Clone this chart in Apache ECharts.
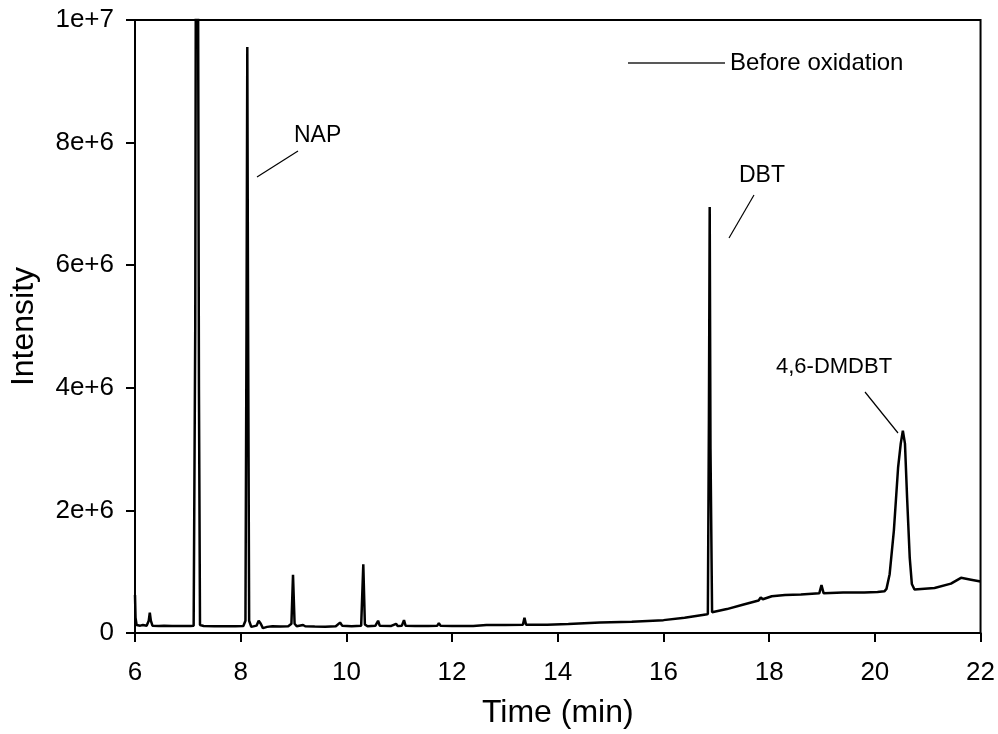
<!DOCTYPE html>
<html>
<head>
<meta charset="utf-8">
<script src="https://cdn.jsdelivr.net/npm/echarts@6/dist/echarts.min.js"></script>
<style>html,body{margin:0;padding:0;background:#fff}#c{width:998px;height:734px}</style>
</head>
<body>
<div id="c"></div>
<script>
// ---- data ----
var seriesName = 'Before oxidation';
var timeMin = [
  6.00, 6.01, 6.03, 6.10, 6.15, 6.22, 6.26, 6.28, 6.30, 6.33, 6.45, 6.55, 6.70, 6.90, 7.05,
  7.11, 7.14, 7.155, 7.175, 7.19, 7.21, 7.23, 7.30, 7.50, 7.70, 7.90, 8.05,
  8.09, 8.11, 8.125, 8.14, 8.16, 8.20, 8.30, 8.34, 8.36, 8.38, 8.42, 8.50, 8.60, 8.75, 8.90,
  8.96, 8.99, 9.02, 9.06, 9.18, 9.22, 9.40, 9.60, 9.80, 9.88, 9.92, 10.10,
  10.28, 10.32, 10.35, 10.40, 10.55, 10.60, 10.63, 10.85, 10.94, 10.97, 11.05, 11.09, 11.12,
  11.30, 11.55, 11.72, 11.75, 11.78, 12.00, 12.40, 12.65, 13.00, 13.34, 13.37, 13.40,
  13.80, 14.20, 14.80, 15.40, 16.00, 16.40, 16.80, 16.84,
  16.86, 16.875, 16.89, 16.92, 17.20, 17.50, 17.80, 17.84, 17.88, 18.05, 18.30, 18.60,
  18.95, 18.99, 19.03, 19.40, 19.80, 20.05, 20.18, 20.22, 20.28, 20.36, 20.44, 20.49,
  20.53, 20.57, 20.61, 20.66, 20.70, 20.75, 21.13, 21.44, 21.63, 21.82, 22.00
];
var intensity = [
  6.2e5, 2.5e5, 1.3e5, 1.2e5, 1.3e5, 1.2e5, 2.0e5, 3.3e5, 2.0e5, 1.2e5, 1.15e5, 1.2e5, 1.15e5, 1.15e5, 1.15e5,
  1.2e5, 5.0e6, 1.3e7, 1.8e7, 1.2e7, 4.0e6, 1.3e5, 1.15e5, 1.1e5, 1.1e5, 1.1e5, 1.15e5,
  2.0e5, 5.0e6, 9.56e6, 5.0e6, 2.0e5, 1.0e5, 1.2e5, 2.0e5, 2.3e5, 1.5e5, 8.0e4, 1.0e5, 1.1e5, 1.05e5, 1.1e5,
  1.5e5, 9.5e5, 1.5e5, 1.1e5, 1.3e5, 1.1e5, 1.05e5, 1.0e5, 1.1e5, 1.7e5, 1.2e5, 1.1e5,
  1.2e5, 1.12e6, 1.4e5, 1.1e5, 1.2e5, 2.0e5, 1.2e5, 1.15e5, 1.5e5, 1.15e5, 1.2e5, 2.1e5, 1.2e5,
  1.15e5, 1.15e5, 1.2e5, 1.6e5, 1.2e5, 1.15e5, 1.15e5, 1.3e5, 1.3e5, 1.35e5, 2.5e5, 1.35e5,
  1.35e5, 1.45e5, 1.7e5, 1.85e5, 2.1e5, 2.5e5, 3.0e5, 3.1e5,
  3.5e6, 6.95e6, 3.0e6, 3.4e5, 3.9e5, 4.6e5, 5.3e5, 5.8e5, 5.5e5, 6.0e5, 6.2e5, 6.3e5,
  6.5e5, 7.8e5, 6.5e5, 6.6e5, 6.6e5, 6.7e5, 6.8e5, 7.2e5, 9.6e5, 1.67e6, 2.7e6, 3.09e6,
  3.30e6, 3.09e6, 2.21e6, 1.23e6, 8.0e5, 7.1e5, 7.35e5, 8.05e5, 9.0e5, 8.7e5, 8.4e5
];
var xTickLabels = ['6', '8', '10', '12', '14', '16', '18', '20', '22'];
var yTickLabels = ['0', '2e+6', '4e+6', '6e+6', '8e+6', '1e+7'];
var peakLabels = ['NAP', 'DBT', '4,6-DMDBT'];

var xMin = 6, xMax = 22, xStep = 2;
var yMin = 0, yMax = 1e7, yStep = 2e6;

var points = timeMin.map(function (t, i) { return [t, intensity[i]]; });

var FONT = '"Liberation Sans", Arial, sans-serif';
var chart = echarts.init(document.getElementById('c'), null, { renderer: 'canvas' });

chart.setOption({
  backgroundColor: '#ffffff',
  animation: false,
  grid: {
    left: 134, right: 15, top: 20, bottom: 101,
    show: true, borderColor: '#000', borderWidth: 2, backgroundColor: 'transparent'
  },
  legend: {
    data: [seriesName],
    left: 628, top: 51, padding: 0,
    icon: 'rect', itemWidth: 97, itemHeight: 1.3,
    itemStyle: { color: '#222' },
    textStyle: { fontFamily: FONT, fontSize: 24, color: '#000' }
  },
  xAxis: {
    type: 'value', min: xMin, max: xMax, interval: xStep,
    name: 'Time (min)', nameLocation: 'middle', nameGap: 64,
    nameTextStyle: { fontFamily: FONT, fontSize: 32, color: '#000' },
    axisLine: { show: true, onZero: false, lineStyle: { color: '#000', width: 2 } },
    axisTick: { show: true, inside: false, length: 9, lineStyle: { color: '#000', width: 2 } },
    axisLabel: {
      fontFamily: FONT, fontSize: 26, color: '#000', margin: 27,
      formatter: function (v) { return xTickLabels[Math.round((v - xMin) / xStep)]; }
    },
    splitLine: { show: false }
  },
  yAxis: {
    type: 'value', min: yMin, max: yMax, interval: yStep,
    name: 'Intensity', nameLocation: 'middle', nameGap: 95, nameRotate: 90,
    nameTextStyle: { fontFamily: FONT, fontSize: 32, color: '#000' },
    axisLine: { show: true, lineStyle: { color: '#000', width: 2 } },
    axisTick: { show: true, inside: false, length: 9, lineStyle: { color: '#000', width: 2 } },
    axisLabel: {
      fontFamily: FONT, fontSize: 26, color: '#000', margin: 21,
      formatter: function (v) { return yTickLabels[Math.round((v - yMin) / yStep)]; }
    },
    splitLine: { show: false }
  },
  series: [{
    name: seriesName,
    type: 'line',
    data: points,
    showSymbol: false,
    symbol: 'none',
    clip: true,
    lineStyle: { color: '#000', width: 2.5 },
    itemStyle: { color: '#000' }
  }],
  graphic: [
    { type: 'line', shape: { x1: 257, y1: 177, x2: 298, y2: 151 }, style: { stroke: '#000', lineWidth: 1.2 } },
    { type: 'text', left: 294, top: 124, style: { text: peakLabels[0], font: '23px ' + FONT, fill: '#000' } },
    { type: 'line', shape: { x1: 729, y1: 238, x2: 754, y2: 195 }, style: { stroke: '#000', lineWidth: 1.2 } },
    { type: 'text', left: 739, top: 164, style: { text: peakLabels[1], font: '23px ' + FONT, fill: '#000' } },
    { type: 'line', shape: { x1: 865, y1: 392, x2: 898, y2: 433 }, style: { stroke: '#000', lineWidth: 1.2 } },
    { type: 'text', left: 776, top: 356, style: { text: peakLabels[2], font: '22px ' + FONT, fill: '#000' } }
  ]
});
</script>
</body>
</html>
